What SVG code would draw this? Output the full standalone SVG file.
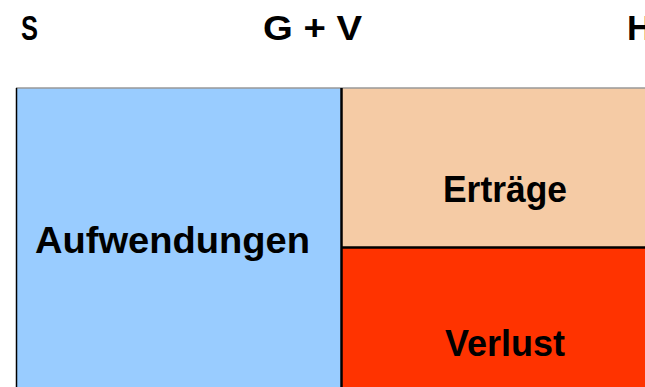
<svg xmlns="http://www.w3.org/2000/svg" width="645" height="387" viewBox="0 0 645 387">
<style>
.t{font-family:"Liberation Sans",Arial,sans-serif;font-weight:bold;fill:#000}
.h{font-size:35px}
.b{font-size:37px}
</style>
<rect x="0" y="0" width="645" height="387" fill="#fff"/>
<g id="headers">
<text class="t h" x="21" y="40" textLength="17" lengthAdjust="spacingAndGlyphs">S</text>
<text class="t h" x="263" y="40" textLength="99" lengthAdjust="spacingAndGlyphs">G + V</text>
<text class="t h" x="627" y="40">H</text>
</g>
<g id="aufwendungen">
<rect x="16" y="88" width="325" height="310" fill="#99CCFF"/>
<text class="t b" x="35" y="253" textLength="275" lengthAdjust="spacingAndGlyphs">Aufwendungen</text>
</g>
<g id="ertraege">
<rect x="341" y="88" width="320" height="159" fill="#F5CBA5"/>
<text class="t b" x="443" y="202" textLength="124" lengthAdjust="spacingAndGlyphs">Erträge</text>
</g>
<g id="verlust">
<rect x="341" y="247" width="320" height="150" fill="#FF3300"/>
<text class="t b" x="445" y="356" textLength="120" lengthAdjust="spacingAndGlyphs">Verlust</text>
</g>
<g id="connectors" fill="none">
<line x1="16" y1="88" x2="645" y2="88" stroke="#999" stroke-width="1.5"/>
<line x1="16.5" y1="88" x2="16.5" y2="387" stroke="#000" stroke-width="1.5"/>
<line x1="341.5" y1="88" x2="341.5" y2="387" stroke="#000" stroke-width="2.5"/>
<line x1="341" y1="247.5" x2="645" y2="247.5" stroke="#000" stroke-width="2.5"/>
</g>
</svg>
